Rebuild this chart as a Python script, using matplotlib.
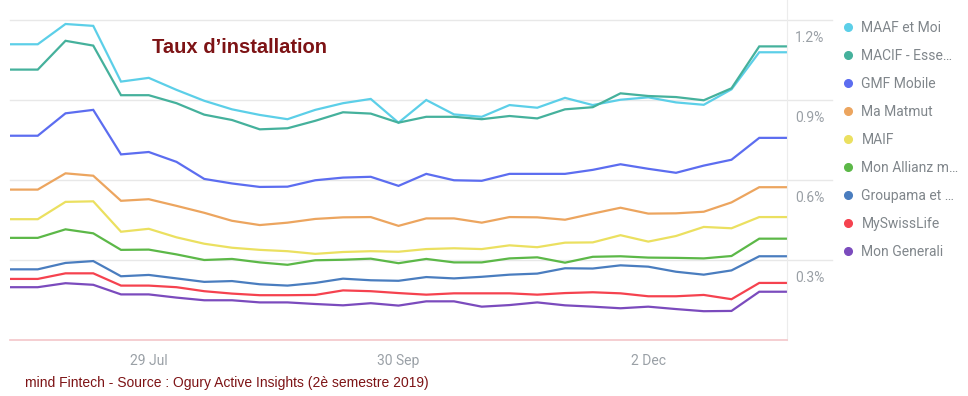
import numpy as np
import pandas as pd
import matplotlib
matplotlib.use("Agg")
import matplotlib.pyplot as plt
import matplotlib.transforms as mtransforms
from matplotlib.lines import Line2D

plt.rcParams['font.family'] = ['Roboto', 'DejaVu Sans']

# semaines (lundi) du 24 juin 2019 au 6 janvier 2020
dates = pd.date_range("2019-06-24", periods=29, freq="7D")

noms = ["MAAF et Moi", "MACIF - Esse…", "GMF Mobile", "Ma Matmut", "MAIF",
        "Mon Allianz m…", "Groupama et …", "MySwissLife", "Mon Generali"]
couleurs = ["#5ccfe8", "#45b19c", "#5c6df0", "#eca55f", "#ebe060",
            "#5cb848", "#4a7dbf", "#f5424f", "#7b4bbd"]

maaf = [1.109, 1.109, 1.185, 1.178, 0.969, 0.983, 0.938, 0.897, 0.865, 0.844,
        0.828, 0.863, 0.888, 0.904, 0.815, 0.900, 0.846, 0.837, 0.881, 0.871,
        0.908, 0.881, 0.901, 0.910, 0.891, 0.882, 0.940, 1.079, 1.079]
macif = [1.014, 1.014, 1.122, 1.104, 0.918, 0.918, 0.888, 0.845, 0.825, 0.790,
         0.794, 0.822, 0.854, 0.849, 0.815, 0.837, 0.837, 0.828, 0.840, 0.831,
         0.865, 0.873, 0.925, 0.915, 0.911, 0.899, 0.944, 1.101, 1.101]
gmf = [0.766, 0.766, 0.850, 0.863, 0.696, 0.705, 0.668, 0.604, 0.587, 0.574,
       0.575, 0.599, 0.609, 0.612, 0.578, 0.623, 0.599, 0.597, 0.623, 0.623,
       0.623, 0.638, 0.659, 0.642, 0.627, 0.654, 0.676, 0.758, 0.758]
matmut = [0.564, 0.564, 0.625, 0.616, 0.522, 0.528, 0.503, 0.477, 0.447, 0.431,
          0.440, 0.454, 0.460, 0.461, 0.428, 0.456, 0.456, 0.440, 0.461, 0.460,
          0.451, 0.474, 0.496, 0.474, 0.475, 0.481, 0.516, 0.573, 0.573]
maif = [0.453, 0.453, 0.518, 0.520, 0.406, 0.417, 0.385, 0.361, 0.346, 0.338,
        0.333, 0.323, 0.330, 0.333, 0.331, 0.341, 0.344, 0.341, 0.355, 0.348,
        0.365, 0.366, 0.393, 0.369, 0.390, 0.424, 0.419, 0.461, 0.461]
allianz = [0.383, 0.383, 0.415, 0.400, 0.338, 0.339, 0.321, 0.300, 0.304, 0.291,
           0.282, 0.299, 0.301, 0.305, 0.288, 0.304, 0.291, 0.291, 0.306, 0.310,
           0.290, 0.312, 0.314, 0.309, 0.308, 0.306, 0.315, 0.380, 0.380]
groupama = [0.265, 0.265, 0.289, 0.296, 0.239, 0.244, 0.231, 0.218, 0.221, 0.209,
            0.204, 0.214, 0.230, 0.224, 0.222, 0.236, 0.231, 0.237, 0.245, 0.249,
            0.269, 0.268, 0.280, 0.275, 0.256, 0.245, 0.261, 0.314, 0.314]
swisslife = [0.229, 0.229, 0.250, 0.250, 0.204, 0.204, 0.198, 0.183, 0.174, 0.168,
             0.168, 0.169, 0.186, 0.183, 0.176, 0.170, 0.175, 0.175, 0.175, 0.170,
             0.176, 0.179, 0.175, 0.164, 0.164, 0.169, 0.153, 0.214, 0.214]
generali = [0.198, 0.198, 0.213, 0.207, 0.171, 0.171, 0.159, 0.149, 0.149, 0.141,
            0.141, 0.135, 0.130, 0.138, 0.129, 0.145, 0.145, 0.125, 0.131, 0.141,
            0.130, 0.125, 0.119, 0.125, 0.116, 0.108, 0.109, 0.181, 0.181]

series = [maaf, macif, gmf, matmut, maif, allianz, groupama, swisslife, generali]

yticks = [0.3, 0.6, 0.9, 1.2]
ytick_labels = ["0.3%", "0.6%", "0.9%", "1.2%"]
xtick_idx = [5, 14, 23]
xtick_labels = ["29 Jul", "30 Sep", "2 Dec"]

fig = plt.figure(figsize=(9.68, 3.96), dpi=100)
ax = fig.add_axes([10 / 968, 56 / 396, 777 / 968, 340 / 396])

for vals, c in zip(series, couleurs):
    ax.plot(dates, vals, color=c, lw=1.6, solid_joinstyle='miter')

ax.set_xlim(dates[0], dates[-1])
ax.set_ylim(0, 1.275)

# grille horizontale qui dépasse sous les libellés de droite
for v in yticks:
    ax.axhline(v, xmin=0, xmax=1.058, color='#e8e8e8', lw=1, zorder=0, clip_on=False)

# libellés de l'axe y, sous chaque ligne de grille
trans = mtransforms.offset_copy(ax.get_yaxis_transform(), fig=fig, x=8, y=-18, units='dots')
for v, lab in zip(yticks, ytick_labels):
    ax.text(1.0, v, lab, transform=trans, ha='left', va='center',
            fontsize=10, color='#9aa0a6')
ax.set_yticks([])

ax.set_xticks(dates[xtick_idx])
ax.set_xticklabels(xtick_labels)
ax.tick_params(axis='x', length=0, pad=10, labelsize=10, labelcolor='#9aa0a6')

for s in ['top', 'left']:
    ax.spines[s].set_visible(False)
ax.spines['right'].set_color('#ececec')
ax.spines['bottom'].set_color('#f4c6c9')
ax.spines['bottom'].set_linewidth(1.2)

fig.text(152 / 968, 1 - 53 / 396, "Taux d’installation", fontsize=14.5,
         fontweight='bold', color='#7d1315', family='Liberation Sans',
         ha='left', va='baseline')
fig.text(25 / 968, 1 - 383 / 396,
         "mind Fintech - Source : Ogury Active Insights (2è semestre 2019)",
         fontsize=10, color='#7d1315', family='Liberation Sans',
         ha='left', va='center')

handles = [Line2D([], [], ls='none', marker='o', markersize=5.5,
                  markerfacecolor=c, markeredgecolor=c) for c in couleurs]
leg = fig.legend(handles, noms, loc='upper left',
                 bbox_to_anchor=(842 / 968, 1 - 21 / 396),
                 frameon=False, fontsize=10, labelspacing=1.01,
                 handlelength=0.8, handletextpad=0.6, borderaxespad=0,
                 borderpad=0)
for t in leg.get_texts():
    t.set_color('#80868b')

fig.savefig("out.png", dpi=100)
